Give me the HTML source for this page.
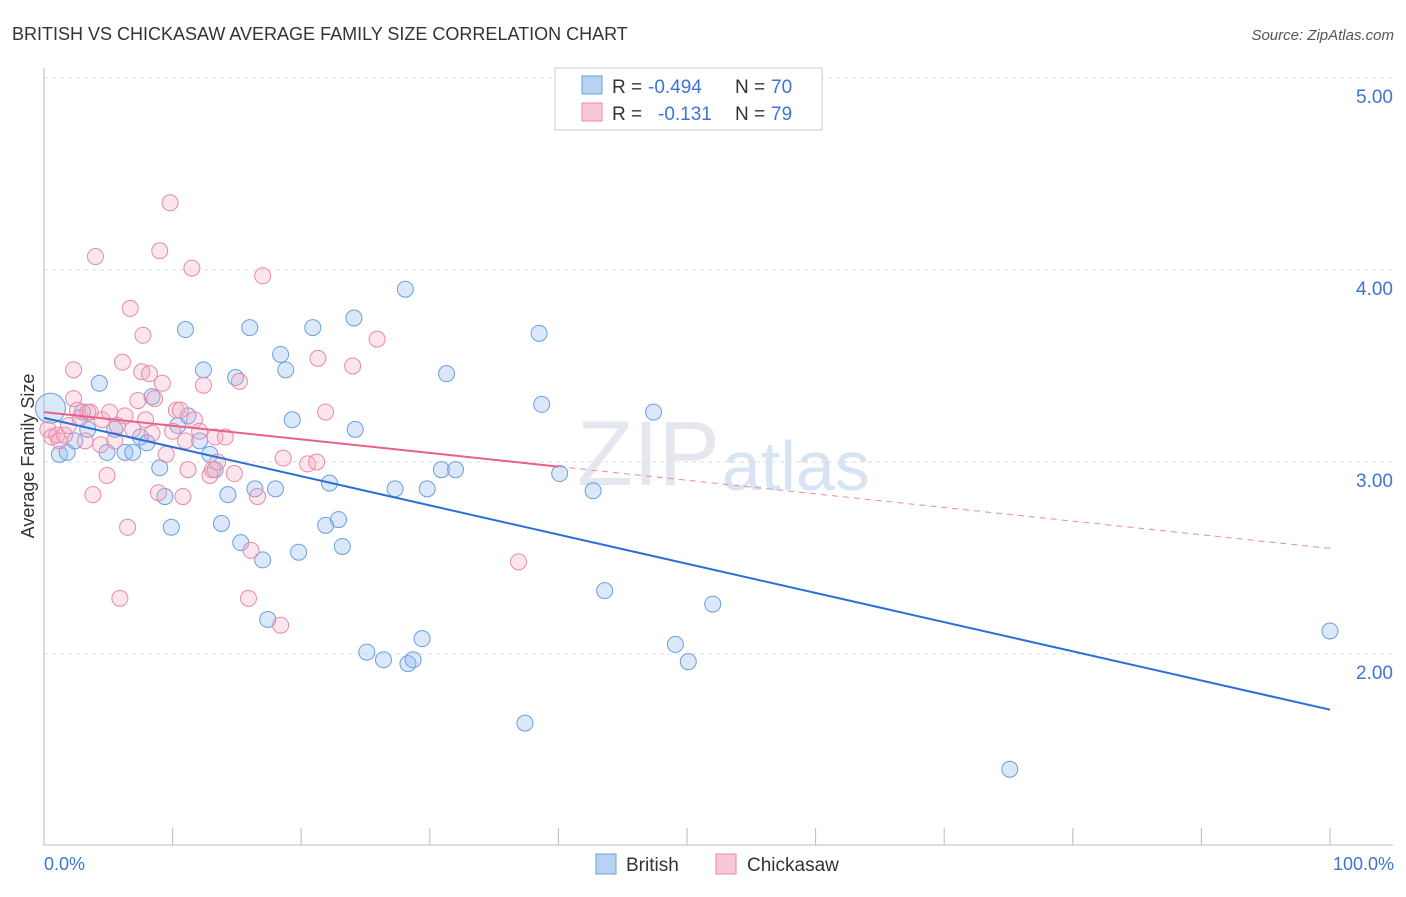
<!DOCTYPE html>
<html><head><meta charset="utf-8"><style>
body{margin:0;background:#fff;font-family:"Liberation Sans",sans-serif;}
svg text{font-family:"Liberation Sans",sans-serif;}
</style></head><body>
<svg id="chart" width="1406" height="892">
<text x="12" y="40" font-size="18" fill="#333">BRITISH VS CHICKASAW AVERAGE FAMILY SIZE CORRELATION CHART</text>
<text x="1394" y="40" font-size="15" fill="#555" font-style="italic" text-anchor="end">Source: ZipAtlas.com</text>
<text x="720" y="485" font-size="92" fill="#e4e8ee" text-anchor="end" font-family="Liberation Serif">ZIP</text>
<text x="722" y="490" font-size="70" fill="#d6e4f4">atlas</text>
<g id="grid"></g>
<g id="axes"></g>
<g id="marks"></g>
<text transform="translate(34,456) rotate(-90)" font-size="18" fill="#333" text-anchor="middle">Average Family Size</text>
<text x="44" y="870" font-size="18" fill="#3a75d4">0.0%</text>
<text x="1394" y="870" font-size="18" fill="#3a75d4" text-anchor="end">100.0%</text>
<g>
<rect x="555" y="68" width="267" height="62" fill="#fff" stroke="#ccc"/>
<rect x="582" y="76" width="20" height="18" fill="#b8d2f4" stroke="#6a9fe0"/>
<rect x="582" y="103" width="20" height="18" fill="#f8c8d6" stroke="#e88aa8"/>
<text x="612" y="93" font-size="19" fill="#333">R =</text>
<text x="648" y="93" font-size="19" fill="#3a75d4">-0.494</text>
<text x="735" y="93" font-size="19" fill="#333">N =</text>
<text x="771" y="93" font-size="19" fill="#3a75d4">70</text>
<text x="612" y="120" font-size="19" fill="#333">R =</text>
<text x="658" y="120" font-size="19" fill="#3a75d4">-0.131</text>
<text x="735" y="120" font-size="19" fill="#333">N =</text>
<text x="771" y="120" font-size="19" fill="#3a75d4">79</text>
</g>
<g>
<rect x="596" y="854" width="20" height="20" fill="#b8d2f4" stroke="#6a9fe0"/>
<text x="626" y="871" font-size="19" fill="#333">British</text>
<rect x="716" y="854" width="20" height="20" fill="#f8c8d6" stroke="#e88aa8"/>
<text x="747" y="871" font-size="19" fill="#333">Chickasaw</text>
</g>
</svg>
<script>
const yTicks=[5,4,3,2];
const yTickLabels=["5.00","4.00","3.00","2.00"];
const xTicks=[0,10,20,30,40,50,60,70,80,90,100];
const britishX=[0.5,1.2,1.8,2.4,3.0,3.4,4.3,4.9,5.5,6.3,6.9,7.5,8.0,8.4,9.0,9.4,9.9,10.4,11.0,11.2,12.1,12.4,12.9,13.3,13.8,14.3,14.9,15.3,16.0,16.4,17.0,17.4,18.0,18.4,18.8,19.3,19.8,20.9,21.9,22.2,22.9,23.2,24.1,24.2,25.1,26.4,27.3,28.1,28.3,28.7,29.4,29.8,30.9,31.3,32.0,37.4,38.5,38.7,40.1,42.7,43.6,47.4,49.1,50.1,52.0,75.1,100];
const britishY=[3.28,3.04,3.05,3.11,3.26,3.17,3.41,3.05,3.17,3.05,3.05,3.13,3.10,3.34,2.97,2.82,2.66,3.19,3.69,3.24,3.11,3.48,3.04,2.96,2.68,2.83,3.44,2.58,3.70,2.86,2.49,2.18,2.86,3.56,3.48,3.22,2.53,3.70,2.67,2.89,2.70,2.56,3.75,3.17,2.01,1.97,2.86,3.90,1.95,1.97,2.08,2.86,2.96,3.46,2.96,1.64,3.67,3.30,2.94,2.85,2.33,3.26,2.05,1.96,2.26,1.40,2.12];
const chickX=[0.3,0.6,1.0,1.2,1.6,1.9,2.3,2.3,2.6,2.8,3.2,3.4,3.6,3.8,4.0,4.4,4.5,4.9,5.1,5.5,5.7,5.9,6.1,6.3,6.5,6.7,6.9,7.3,7.6,7.7,7.9,8.2,8.4,8.6,8.9,9.0,9.2,9.5,9.8,10.0,10.3,10.6,10.8,11.0,11.2,11.5,11.7,12.1,12.4,12.9,13.1,13.3,13.5,14.1,14.8,15.2,15.9,16.1,16.6,17.0,18.4,18.6,20.5,21.2,21.3,21.9,24.0,25.9,36.9];
const chickY=[3.17,3.13,3.14,3.11,3.14,3.19,3.33,3.48,3.27,3.23,3.11,3.26,3.26,2.83,4.07,3.09,3.22,2.93,3.26,3.11,3.19,2.29,3.52,3.24,2.66,3.80,3.17,3.32,3.47,3.66,3.22,3.46,3.15,3.33,2.84,4.10,3.41,3.04,4.35,3.16,3.27,3.27,2.82,3.11,2.96,4.01,3.22,3.16,3.40,2.93,2.96,3.13,3.00,3.13,2.94,3.42,2.29,2.54,2.82,3.97,2.15,3.02,2.99,3.00,3.54,3.26,3.50,3.64,2.48];
const britishTrend=[3.23,1.71];
const chickTrend=[3.26,2.55];
const chickSolidEnd=40;
const NS="http://www.w3.org/2000/svg";
const sx=v=>44+v*12.86;
const sy=v=>462-(v-3)*192;
function mk(tag,attrs,parent){const e=document.createElementNS(NS,tag);for(const k in attrs)e.setAttribute(k,attrs[k]);document.getElementById(parent).appendChild(e);return e;}
yTicks.forEach((t,i)=>{
 const l=mk('line',{x1:44,x2:1393,y1:sy(t),y2:sy(t),stroke:'#ddd','stroke-dasharray':'4,4'},'grid');
 
 
 const tx=mk('text',{x:1393,y:sy(t)+25,'font-size':19,fill:'#3a75d4','text-anchor':'end'},'grid');
 tx.textContent=yTickLabels[i];
 
 
});
const ax=mk('line',{x1:44,x2:1393,y1:845,y2:845,stroke:'#bbb'},'axes');


const ay=mk('line',{x1:44,x2:44,y1:68,y2:845,stroke:'#bbb'},'axes');


xTicks.forEach(t=>{
 const l=mk('line',{x1:sx(t),x2:sx(t),y1:828,y2:845,stroke:'#bbb'},'axes');
 
 
});
britishX.forEach((x,i)=>{
 const c=mk('circle',{cx:sx(x),cy:sy(britishY[i]),r:i===0?15:8,fill:'rgba(150,190,240,0.35)',stroke:'#6a9fe0','stroke-width':1},'marks');
 
 
});
chickX.forEach((x,i)=>{
 const c=mk('circle',{cx:sx(x),cy:sy(chickY[i]),r:8,fill:'rgba(244,170,195,0.3)',stroke:'#e88aa8','stroke-width':1},'marks');
 
 
});
const bl=mk('line',{x1:sx(0),y1:sy(britishTrend[0]),x2:sx(100),y2:sy(britishTrend[1]),stroke:'#2a6fd8','stroke-width':2},'marks');


const cm=chickTrend[0]+(chickTrend[1]-chickTrend[0])*chickSolidEnd/100;
const cl=mk('line',{x1:sx(0),y1:sy(chickTrend[0]),x2:sx(chickSolidEnd),y2:sy(cm),stroke:'#e8608a','stroke-width':2},'marks');


const cd=mk('line',{x1:sx(chickSolidEnd),y1:sy(cm),x2:sx(100),y2:sy(chickTrend[1]),stroke:'#e88aa8','stroke-width':1,'stroke-dasharray':'6,5'},'marks');


</script>
</body></html>
